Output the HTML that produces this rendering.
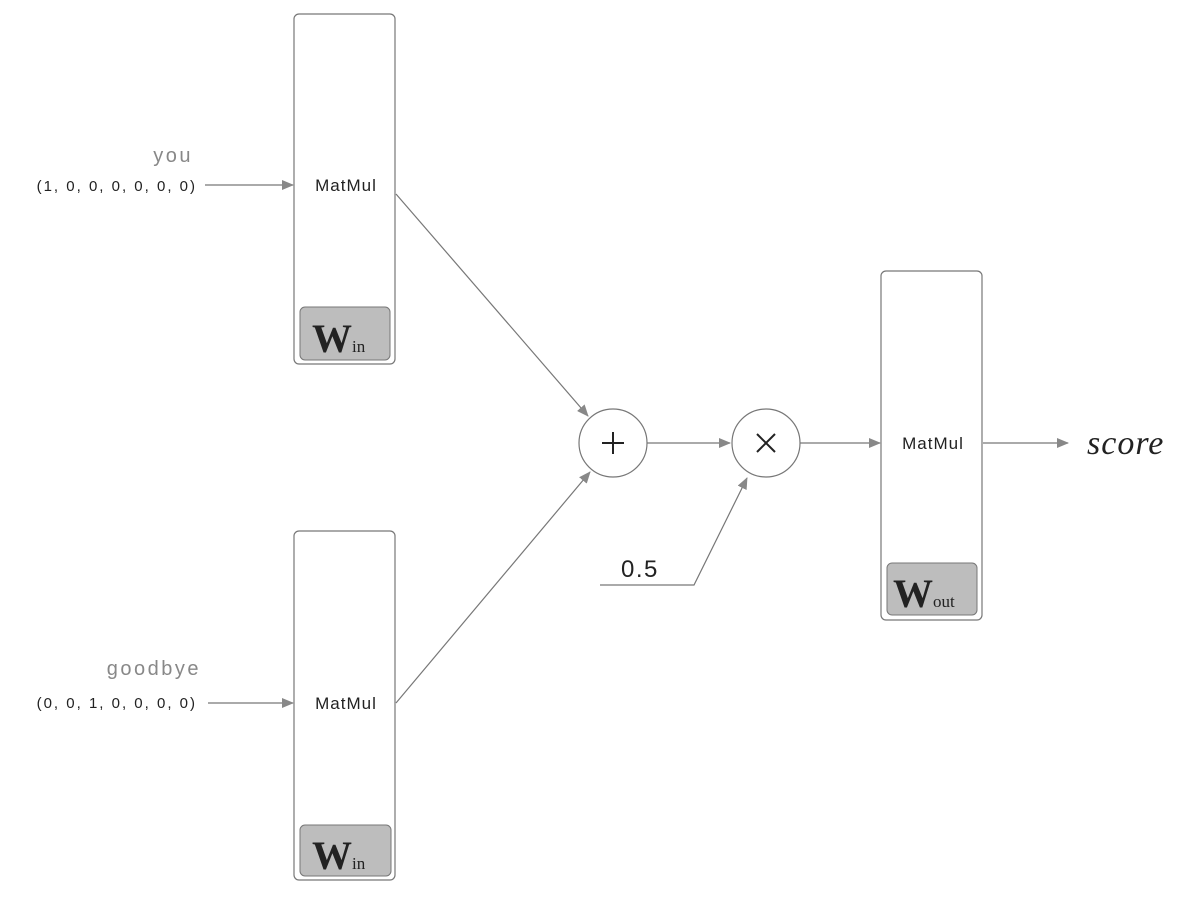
<!DOCTYPE html>
<html><head><meta charset="utf-8"><style>
body{margin:0;background:#fff;}
svg{display:block;font-family:"Liberation Sans",sans-serif;}
</style></head><body>
<svg width="1188" height="922" viewBox="0 0 1188 922" xmlns="http://www.w3.org/2000/svg">
<defs><marker id="a" markerWidth="12" markerHeight="10" refX="11" refY="5" orient="auto" markerUnits="userSpaceOnUse"><path d="M0,0 L12,5 L0,10 Z" fill="#888"/></marker></defs>
<g fill="none" stroke="#777" stroke-width="1.2">
<rect x="294" y="14" width="101" height="350" rx="5"/>
<rect x="294" y="531" width="101" height="349" rx="5"/>
<rect x="881" y="271" width="101" height="349" rx="5"/>
</g>
<g fill="#bdbdbd" stroke="#777" stroke-width="1">
<rect x="300" y="307" width="90" height="53" rx="5"/>
<rect x="300" y="825" width="91" height="51" rx="5"/>
<rect x="887" y="563" width="90" height="52" rx="5"/>
</g>
<g font-family="Liberation Serif,serif" fill="#222">
<text x="312" y="352" font-size="40" font-weight="bold">W<tspan font-size="17" font-weight="normal">in</tspan></text>
<text x="312" y="869" font-size="40" font-weight="bold">W<tspan font-size="17" font-weight="normal">in</tspan></text>
<text x="893" y="607" font-size="40" font-weight="bold">W<tspan font-size="17" font-weight="normal">out</tspan></text>
</g>
<g font-size="17" letter-spacing="1" fill="#222" text-anchor="middle">
<text x="346" y="191">MatMul</text>
<text x="346" y="709">MatMul</text>
<text x="933" y="449">MatMul</text>
</g>
<g font-size="15" letter-spacing="2" fill="#222" text-anchor="end">
<text x="197" y="191">(1, 0, 0, 0, 0, 0, 0)</text>
<text x="197" y="708">(0, 0, 1, 0, 0, 0, 0)</text>
</g>
<g font-size="20" letter-spacing="2.5" fill="#888" text-anchor="end">
<text x="193" y="162">you</text>
<text x="201" y="675">goodbye</text>
</g>
<g stroke="#777" stroke-width="1.2" fill="none" marker-end="url(#a)">
<line x1="205" y1="185" x2="293" y2="185"/>
<line x1="208" y1="703" x2="293" y2="703"/>
<line x1="396" y1="194" x2="588" y2="416"/>
<line x1="396" y1="703" x2="590" y2="472"/>
<line x1="647" y1="443" x2="730" y2="443"/>
<line x1="800" y1="443" x2="880" y2="443"/>
<line x1="983" y1="443" x2="1068" y2="443"/>
<polyline points="600,585 694,585 747,478"/>
</g>
<g fill="#fff" stroke="#777" stroke-width="1.2">
<circle cx="613" cy="443" r="34"/>
<circle cx="766" cy="443" r="34"/>
</g>
<g stroke="#222" stroke-width="2">
<line x1="602" y1="443" x2="624" y2="443"/><line x1="613" y1="432" x2="613" y2="454"/>
<line x1="757" y1="434" x2="775" y2="452"/><line x1="775" y1="434" x2="757" y2="452"/>
</g>
<text x="621" y="577" font-size="24" letter-spacing="1.5" fill="#222">0.5</text>
<text x="1087" y="454" font-size="34" letter-spacing="1" font-style="italic" font-family="Liberation Serif,serif" fill="#222">score</text>
</svg>
</body></html>
